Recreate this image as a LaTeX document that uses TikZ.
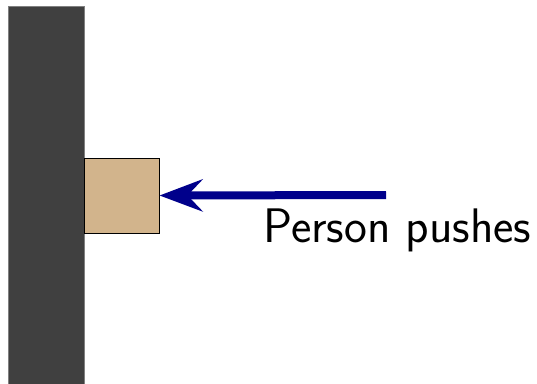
\documentclass[tikz,border=0pt]{standalone}
\usetikzlibrary{arrows.meta}
\definecolor{wallgray}{RGB}{64,64,64}
\definecolor{tan}{RGB}{210,180,140}
\definecolor{navyblue}{RGB}{0,0,139}
\begin{document}
\begin{tikzpicture}[x=1pt,y=-1pt,
  wallstyle/.style={fill=wallgray,draw=gray,line width=0.8pt},
  boxstyle/.style={fill=tan,draw=black,line width=1pt,minimum width=75pt,minimum height=75pt,inner sep=0pt},
  pushline/.style={draw=navyblue,line width=8pt,-{Stealth[length=43pt,width=32pt,inset=15pt]}},
  labelstyle/.style={font=\sffamily\fontsize{48.5}{50}\selectfont,inner sep=0pt,anchor=base west}]
\useasboundingbox (0,0) rectangle (537,383);
\draw[wallstyle] (8,6) rectangle (84,390);
\node[boxstyle] (box) at (121.5,195.5) {};
\coordinate (start) at (386,195);
\draw[pushline] (start) -- (box.east);
\node[labelstyle] (lbl) at (263,242) {Person pushes};
\end{tikzpicture}
\end{document}
